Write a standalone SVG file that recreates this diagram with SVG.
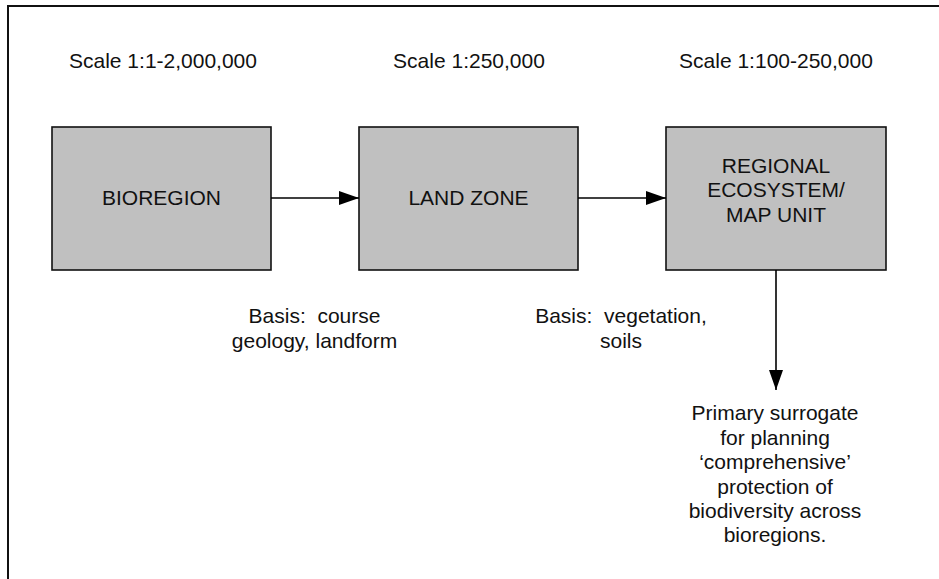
<svg xmlns="http://www.w3.org/2000/svg" width="939" height="579" viewBox="0 0 939 579">
  <defs>
    <marker id="arr" viewBox="0 0 20 14" refX="20" refY="7" markerWidth="20" markerHeight="14" markerUnits="userSpaceOnUse" orient="auto">
      <path d="M0,0 L20,7 L0,14 Z" fill="#000"/>
    </marker>
    <style>
      text { font-family: "Liberation Sans", Arial, sans-serif; font-size: 21px; fill: #111; text-anchor: middle; }
      .box { fill: #c0c0c0; stroke: #111; stroke-width: 1.6; }
      .conn { stroke: #000; stroke-width: 1.6; fill: none; marker-end: url(#arr); }
      .pre { white-space: pre; }
    </style>
  </defs>
  <rect x="0" y="0" width="939" height="579" fill="#fff"/>
  <rect x="8" y="6" width="1000" height="1000" fill="none" stroke="#111" stroke-width="2"/>

  <g id="scales">
    <text x="163" y="68">Scale 1:1-2,000,000</text>
    <text x="469" y="68">Scale 1:250,000</text>
    <text x="776" y="68">Scale 1:100-250,000</text>
  </g>

  <g id="bioregion">
    <rect class="box" x="52" y="127" width="219" height="143"/>
    <text x="161.5" y="205">BIOREGION</text>
  </g>
  <g id="landzone">
    <rect class="box" x="359" y="127" width="219" height="143"/>
    <text x="468.5" y="205">LAND ZONE</text>
  </g>
  <g id="regional">
    <rect class="box" x="666" y="127" width="220" height="143"/>
    <text x="776" y="173">REGIONAL</text>
    <text x="776" y="197">ECOSYSTEM/</text>
    <text x="776" y="222">MAP UNIT</text>
  </g>

  <g id="connectors">
    <line class="conn" x1="271" y1="198" x2="359" y2="198"/>
    <line class="conn" x1="578" y1="198" x2="666" y2="198"/>
    <line class="conn" x1="776" y1="270" x2="776" y2="390"/>
  </g>

  <g id="basis1">
    <text class="pre" x="314.5" y="323">Basis:  course</text>
    <text x="314.5" y="348">geology, landform</text>
  </g>
  <g id="basis2">
    <text class="pre" x="621" y="323">Basis:  vegetation,</text>
    <text x="621" y="348">soils</text>
  </g>
  <g id="surrogate">
    <text x="775" y="420">Primary surrogate</text>
    <text x="775" y="445">for planning</text>
    <text x="775" y="469">‘comprehensive’</text>
    <text x="775" y="494">protection of</text>
    <text x="775" y="518">biodiversity across</text>
    <text x="775" y="542">bioregions.</text>
  </g>
</svg>
